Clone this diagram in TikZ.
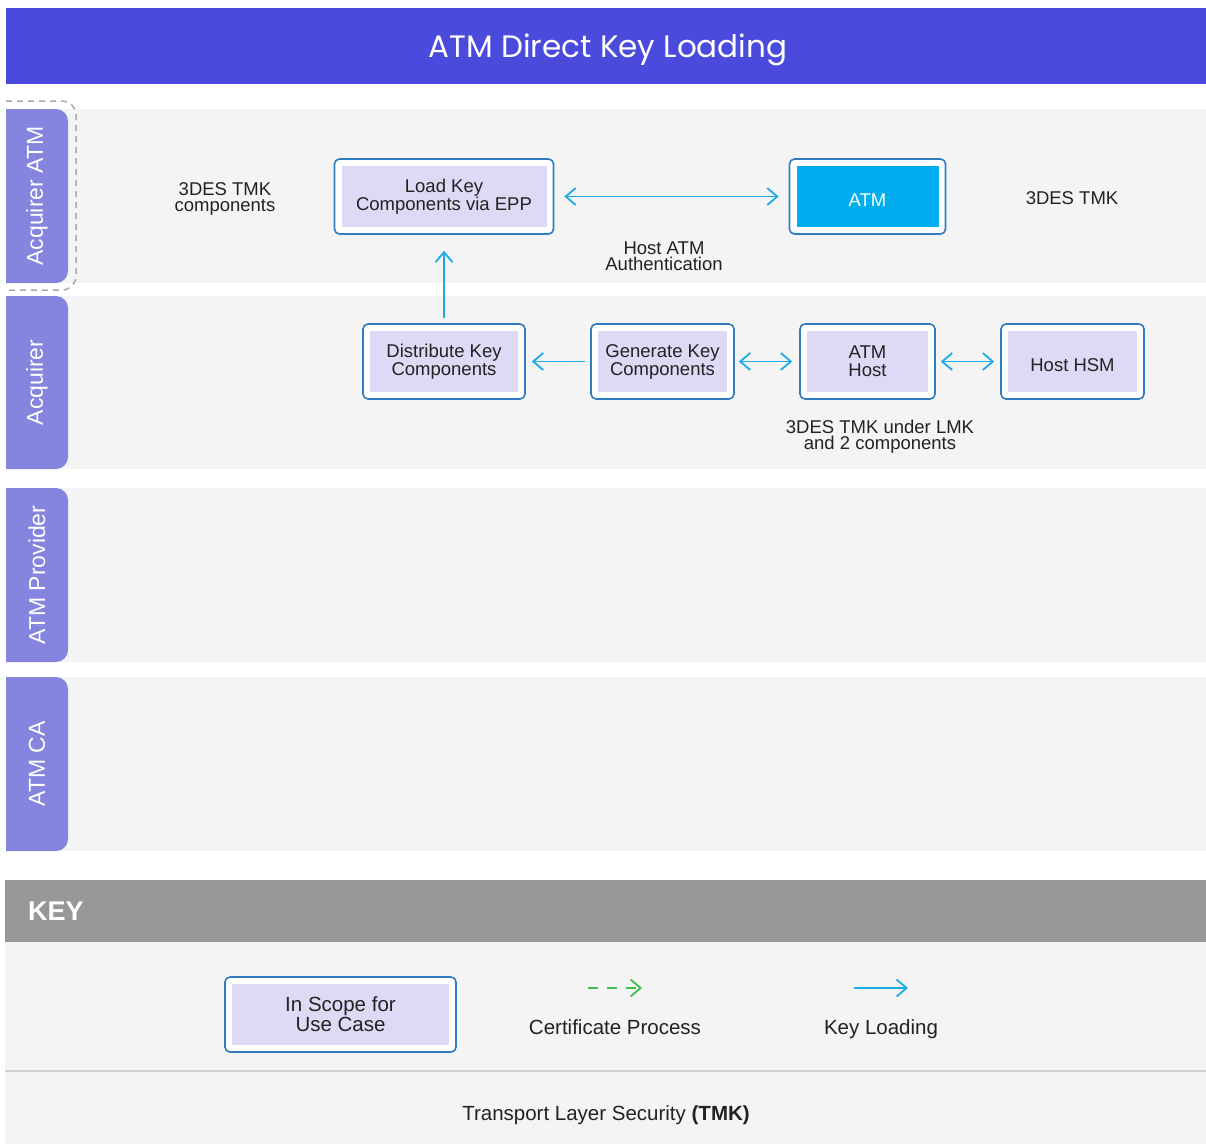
\documentclass[tikz,border=0pt]{standalone}
\usepackage{fontspec}
\setmainfont{Liberation Sans}
\newfontfamily\titlefont{Poppins}
\usetikzlibrary{positioning, arrows.meta}

\definecolor{titleblue}{HTML}{4A4ADC}
\definecolor{tabblue}{HTML}{8585E0}
\definecolor{lanegray}{HTML}{F4F4F4}
\definecolor{keygray}{HTML}{979797}
\definecolor{rulegray}{HTML}{D2D2D2}
\definecolor{dashgray}{HTML}{A8A8A8}
\definecolor{boxblue}{HTML}{2F7CC0}
\definecolor{lilac}{HTML}{DCDAF5}
\definecolor{atmblue}{HTML}{00AEEF}
\definecolor{flowblue}{HTML}{1CABE6}
\definecolor{certgreen}{HTML}{3DBE4F}
\definecolor{ink}{HTML}{222222}

\begin{document}
\begin{tikzpicture}[x=1pt, y=-1pt,
  >={Straight Barb[length=10pt, width=17pt]},
  box/.style={draw=boxblue, line width=1.6pt, rounded corners=5pt, fill=white,
    minimum height=75pt, inner sep=0pt, align=center, text=ink,
    font=\fontsize{18.5}{18}\selectfont, execute at begin node={\rule{0pt}{19.5pt}},
    path picture={\fill[#1, sharp corners] ([shift={(7pt,7pt)}]path picture bounding box.south west)
      rectangle ([shift={(-7pt,-7pt)}]path picture bounding box.north east);}},
  box/.default=lilac,
  note/.style={align=center, text=ink, inner sep=0pt, font=\fontsize{18.5}{16}\selectfont},
  legend/.style={anchor=base, text=ink, inner sep=0pt, font=\fontsize{20.5}{21}\selectfont},
  lanetext/.style={rotate=90, text=white, inner sep=0pt, font=\fontsize{23}{23}\selectfont},
  flow/.style={draw=flowblue, line width=1.8pt},
  cert/.style={draw=certgreen, line width=1.8pt, dash pattern=on 10pt off 9pt}]
\useasboundingbox (0,0) rectangle (1206,1144);

% title bar
\fill[titleblue] (6,8) rectangle (1206,84);
\node[anchor=base, inner sep=0pt, text=white, font=\titlefont\fontsize{31}{31}\selectfont] (title) at (608,57) {ATM Direct Key Loading};

% swim lanes
\foreach \ytop/\ybot/\lname [count=\i] in {109/283/Acquirer ATM, 296/469/Acquirer, 488/662/ATM Provider, 677/851/ATM CA}{
  \fill[lanegray] (6,\ytop) rectangle (1206,\ybot);
  \begin{scope}
    \clip (6,\ytop) rectangle (68,\ybot);
    \fill[tabblue, rounded corners=12pt] (-20,\ytop) rectangle (68,\ybot);
  \end{scope}
  \node[lanetext] (lane\i) at (37,{(\ytop+\ybot)/2}) {\lname};
}
\draw[dashgray, line width=1.5pt, dash pattern=on 6pt off 5pt, rounded corners=14pt] (6,101) -- (76,101) -- (76,290) -- (6,290);

% process boxes
\node[box, minimum width=143pt] (gen) at (662.5,361.5) {Generate Key\\Components};
\node[box, minimum width=162pt, left=64.4pt of gen] (dist) {Distribute Key\\Components};
\node[box, minimum width=135pt, right=64.4pt of gen] (athost) {ATM\\Host};
\node[box, minimum width=143pt, right=64.4pt of athost] (hsm) {Host HSM};
\node[box, minimum width=219pt, above=88.4pt of dist] (load) {Load Key\\Components via EPP};
\node[box=atmblue, text=white, minimum width=156pt, right=234.4pt of load] (atm) {ATM};

\node[note] (tmkcomp) at (225,199.3) {3DES TMK\\components};
\node[note, anchor=base] (tmk) at (1072,204) {3DES TMK};
\node[note] (hostauth) at (664,256.4) {Host ATM\\Authentication};
\node[note] (lmk) at (880,436.6) {3DES TMK under LMK\\and 2 components};

\draw[flow, <->, shorten <=10pt, shorten >=10pt] (load) -- (atm);
\draw[flow, ->, shorten <=5pt, shorten >=6pt] (gen) -- (dist);
\draw[flow, <->, shorten <=4pt, shorten >=7pt] (gen) -- (athost);
\draw[flow, <->, shorten <=5pt, shorten >=6pt] (athost) -- (hsm);
\draw[flow, ->, shorten <=5pt, shorten >=16pt] (dist) -- (load);

% key
\fill[keygray] (5,880) rectangle (1206,942);
\node[anchor=base west, inner sep=0pt, text=white, font=\bfseries\fontsize{27}{27}\selectfont] (keyhead) at (28,920) {KEY};
\fill[lanegray] (5,942) rectangle (1206,1070);
\draw[rulegray, line width=1.5pt] (5,1071) -- (1206,1071);
\fill[lanegray] (5,1072) rectangle (1206,1144);

\node[box, minimum width=231pt, font=\fontsize{20.5}{20}\selectfont, execute at begin node={\rule{0pt}{17.6pt}}] (inscope) at (340.5,1014.5) {In Scope for\\Use Case};
\coordinate (certa) at (588,988);
\coordinate (certb) at (642,988);
\draw[cert, ->] (certa) -- (certb);
\node[legend] (certtxt) at (615,1034) {Certificate Process};
\coordinate (keya) at (854,988);
\coordinate (keyb) at (908,988);
\draw[flow, ->] (keya) -- (keyb);
\node[legend] (keytxt) at (881,1034) {Key Loading};
\node[legend] (tls) at (606,1120.7) {Transport Layer Security \textbf{(TMK)}};
\end{tikzpicture}
\end{document}
